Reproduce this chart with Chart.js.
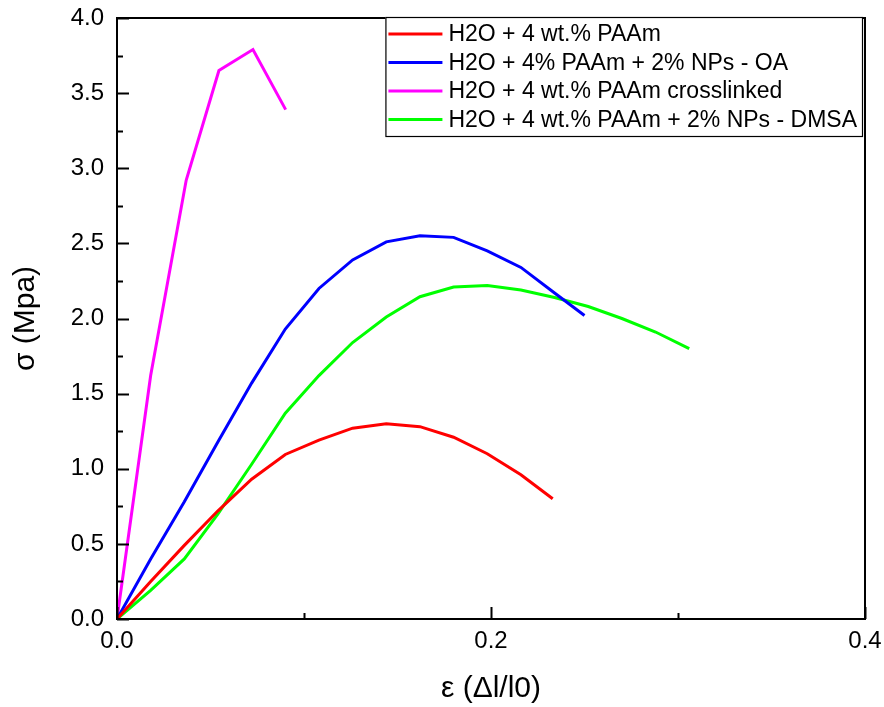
<!DOCTYPE html>
<html lang="en">
<head>
    <meta charset="UTF-8">
    <title>Stress-strain curves, PAAm hydrogels</title>
    <script src="https://cdn.jsdelivr.net/npm/chart.js"></script>
    <style>
        html, body { margin: 0; padding: 0; background: #ffffff; }
        canvas { display: block; }
    </style>
</head>
<body>
    <canvas id="stressChart" width="884" height="707"></canvas>
    <script>
        // Strain (x) and stress in MPa (y) for each sample
        const strainPAAm = [0, 0.018, 0.036, 0.054, 0.072, 0.090, 0.108, 0.126, 0.144, 0.162, 0.180, 0.198, 0.216, 0.233];
        const stressPAAm = [0, 0.25, 0.49, 0.72, 0.93, 1.095, 1.19, 1.27, 1.30, 1.28, 1.21, 1.10, 0.96, 0.80];

        const strainOA = [0, 0.018, 0.036, 0.054, 0.072, 0.090, 0.108, 0.126, 0.144, 0.162, 0.180, 0.198, 0.216, 0.234, 0.250];
        const stressOA = [0, 0.40, 0.78, 1.18, 1.57, 1.93, 2.20, 2.39, 2.51, 2.55, 2.54, 2.45, 2.34, 2.17, 2.02];

        const strainCross = [0, 0.018, 0.037, 0.0545, 0.0727, 0.0902];
        const stressCross = [0, 1.62, 2.92, 3.65, 3.79, 3.39];

        const strainDMSA = [0, 0.018, 0.036, 0.054, 0.072, 0.090, 0.108, 0.126, 0.144, 0.162, 0.180, 0.198, 0.216, 0.234, 0.252, 0.270, 0.288, 0.306];
        const stressDMSA = [0, 0.19, 0.40, 0.70, 1.03, 1.37, 1.62, 1.84, 2.01, 2.145, 2.21, 2.22, 2.19, 2.14, 2.08, 2.00, 1.91, 1.80];

        const seriesLabels = [
            'H2O + 4 wt.% PAAm',
            'H2O + 4% PAAm + 2% NPs - OA',
            'H2O + 4 wt.% PAAm crosslinked',
            'H2O + 4 wt.% PAAm + 2% NPs - DMSA'
        ];
        const seriesColors = ['#ff0000', '#0000ff', '#ff00ff', '#00ff00'];

        function toPoints(xs, ys) {
            return xs.map((x, i) => ({ x: x, y: ys[i] }));
        }

        const FONT = 'Liberation Sans, Arial, sans-serif';

        // inward ticks + closed frame, like the Origin style plot
        const frameTicks = {
            id: 'frameTicks',
            afterDraw(chart) {
                const ctx = chart.ctx;
                const a = chart.chartArea;
                const xs = chart.scales.x;
                const ys = chart.scales.y;
                ctx.save();
                ctx.strokeStyle = '#000';
                ctx.lineWidth = 2;
                ctx.strokeRect(a.left, a.top, a.right - a.left, a.bottom - a.top);
                ctx.beginPath();
                for (let v = 0; v <= 0.4001; v += 0.1) {
                    const px = Math.round(xs.getPixelForValue(v)) + 0.5;
                    const major = Math.abs(v / 0.2 - Math.round(v / 0.2)) < 1e-6;
                    ctx.moveTo(px, a.bottom);
                    ctx.lineTo(px, a.bottom - (major ? 12 : 6));
                }
                for (let v = 0; v <= 4.001; v += 0.25) {
                    const py = Math.round(ys.getPixelForValue(v)) + 0.5;
                    const major = Math.abs(v / 0.5 - Math.round(v / 0.5)) < 1e-6;
                    ctx.moveTo(a.left, py);
                    ctx.lineTo(a.left + (major ? 12 : 6), py);
                }
                ctx.stroke();
                ctx.restore();
            }
        };

        // boxed legend in the upper right corner of the plot
        const boxLegend = {
            id: 'boxLegend',
            afterDraw(chart) {
                const ctx = chart.ctx;
                const a = chart.chartArea;
                ctx.save();
                ctx.font = '23px ' + FONT;
                let maxW = 0;
                chart.data.datasets.forEach(ds => {
                    maxW = Math.max(maxW, ctx.measureText(ds.label).width);
                });
                const rowH = 28.5;
                const right = a.right - 3;
                const left = right - (maxW + 68);
                const top = a.top - 1;
                const height = rowH * chart.data.datasets.length + 5;
                ctx.fillStyle = '#fff';
                ctx.fillRect(left, top, right - left, height);
                ctx.strokeStyle = '#000';
                ctx.lineWidth = 1.2;
                ctx.strokeRect(left + 0.5, top + 0.5, right - left, height);
                ctx.textBaseline = 'middle';
                chart.data.datasets.forEach((ds, i) => {
                    const cy = top + 17 + i * rowH;
                    ctx.strokeStyle = ds.borderColor;
                    ctx.lineWidth = 3;
                    ctx.beginPath();
                    ctx.moveTo(left + 3, cy);
                    ctx.lineTo(left + 57, cy);
                    ctx.stroke();
                    ctx.fillStyle = '#000';
                    ctx.fillText(ds.label, left + 63, cy + 1);
                });
                ctx.restore();
            }
        };

        const datasets = [
            toPoints(strainPAAm, stressPAAm),
            toPoints(strainOA, stressOA),
            toPoints(strainCross, stressCross),
            toPoints(strainDMSA, stressDMSA)
        ].map((pts, i) => ({
            label: seriesLabels[i],
            data: pts,
            showLine: true,
            borderColor: seriesColors[i],
            backgroundColor: seriesColors[i],
            borderWidth: 3,
            pointRadius: 0,
            tension: 0
        }));

        new Chart(document.getElementById('stressChart').getContext('2d'), {
            type: 'scatter',
            data: { datasets: datasets },
            options: {
                responsive: false,
                animation: false,
                layout: { padding: { top: 18, right: 19, left: 0, bottom: 0 } },
                plugins: {
                    legend: { display: false },
                    tooltip: { enabled: false }
                },
                scales: {
                    x: {
                        type: 'linear',
                        min: 0,
                        max: 0.4,
                        afterFit(scale) {
                            scale.height = 88;
                            scale.paddingLeft = 0;
                            scale.paddingRight = 0;
                        },
                        grid: { display: false, drawTicks: false },
                        border: { display: false },
                        ticks: {
                            stepSize: 0.2,
                            padding: 8,
                            color: '#000',
                            font: { family: FONT, size: 24 },
                            callback: v => v.toFixed(1)
                        },
                        title: {
                            display: true,
                            text: 'ε (Δl/l0)',
                            color: '#000',
                            font: { family: FONT, size: 30 },
                            padding: { top: 0, bottom: 0 }
                        }
                    },
                    y: {
                        type: 'linear',
                        min: 0,
                        max: 4,
                        afterFit(scale) {
                            scale.width = 117;
                            scale.paddingTop = 0;
                            scale.paddingBottom = 0;
                        },
                        grid: { display: false, drawTicks: false },
                        border: { display: false },
                        ticks: {
                            stepSize: 0.5,
                            padding: 13,
                            color: '#000',
                            font: { family: FONT, size: 24 },
                            callback: v => v.toFixed(1)
                        },
                        title: {
                            display: true,
                            text: 'σ (Mpa)',
                            color: '#000',
                            font: { family: FONT, size: 30 },
                            padding: { top: 8, bottom: 0 }
                        }
                    }
                }
            },
            plugins: [frameTicks, boxLegend]
        });
    </script>
</body>
</html>
